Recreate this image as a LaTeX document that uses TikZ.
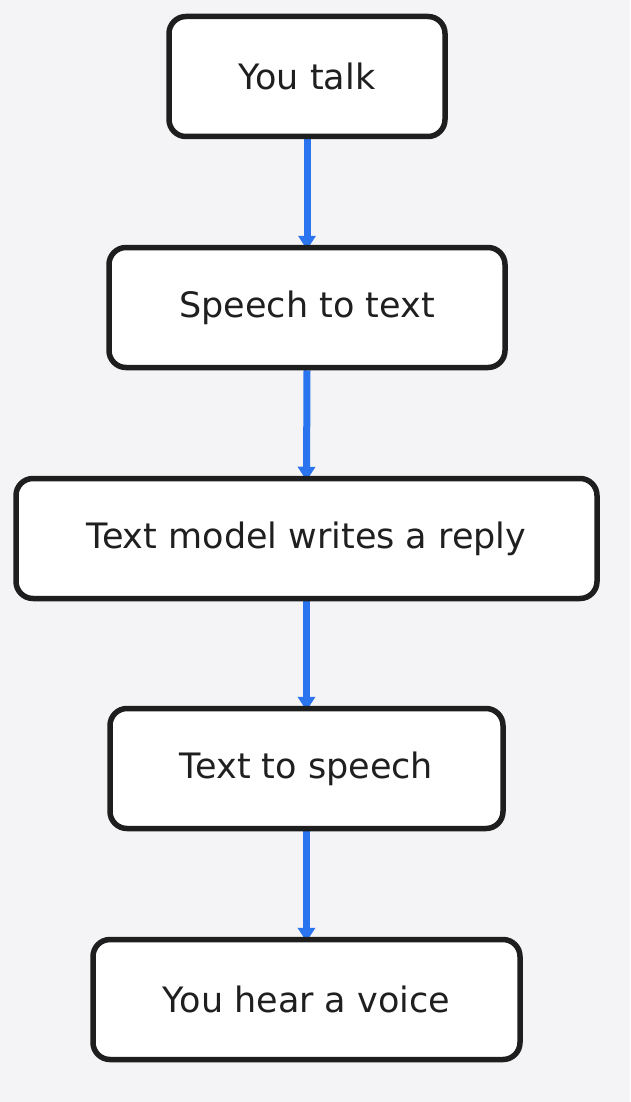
\documentclass[tikz,border=0pt]{standalone}
\usepackage{fontspec}
\setmainfont{DejaVu Sans}
\usetikzlibrary{arrows.meta,backgrounds}
\definecolor{bgc}{HTML}{F4F4F6}
\definecolor{edgec}{HTML}{1E1E1E}
\definecolor{arrc}{HTML}{2B74F0}
\definecolor{txtc}{HTML}{1F1F1F}
\tikzset{
  stepbox/.style={draw=edgec, fill=white, line width=5.5pt, rounded corners=17pt,
    minimum height=120pt, inner sep=0pt, text=txtc,
    font=\fontsize{35}{42}\selectfont},
  flowarr/.style={draw=arrc, line width=7pt,
    -{Triangle[width=17pt,length=14pt]}}
}
\begin{document}
\begin{tikzpicture}[x=1pt,y=-1pt]
\useasboundingbox (0,0) rectangle (630,1102);
\node[stepbox, minimum width=276pt] (a) at (307,76.5) {You talk};
\node[stepbox, minimum width=396pt] (b) at (307,307.5) {Speech to text};
\node[stepbox, minimum width=581pt] (c) at (306.5,538.5) {Text model writes a reply};
\node[stepbox, minimum width=393pt] (d) at (306.5,768.5) {Text to speech};
\node[stepbox, minimum width=427pt] (e) at (306.5,999.5) {You hear a voice};
\begin{scope}[on background layer]
\fill[bgc] (0,0) rectangle (630,1102);
\draw[flowarr] (a.south) -- ([yshift=-5pt]b.north);
\draw[flowarr] (b.south) -- ([yshift=-5pt]c.north);
\draw[flowarr] (c.south) -- ([yshift=-5pt]d.north);
\draw[flowarr] (d.south) -- ([yshift=-5pt]e.north);
\end{scope}
\end{tikzpicture}
\end{document}
